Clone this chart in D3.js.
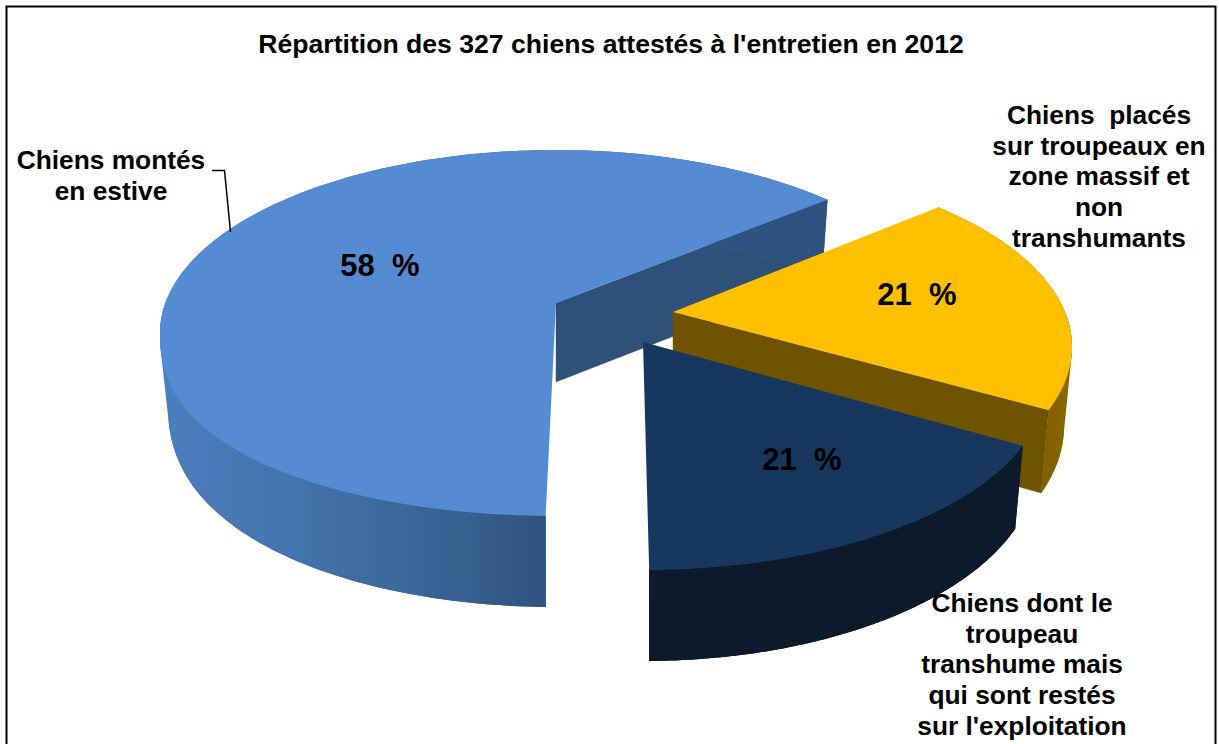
<!DOCTYPE html>
<html lang="fr">
<head>
<meta charset="utf-8">
<style>html,body{margin:0;padding:0;background:#fff}svg{display:block}text{font-family:"Liberation Sans",Arial,sans-serif;font-weight:bold;fill:#000;white-space:pre}</style>
<script src="https://cdn.jsdelivr.net/npm/d3@7/dist/d3.min.js"></script>
</head>
<body>
<svg id="c" width="1219" height="744"></svg>
<script>
const titleText = "Répartition des 327 chiens attestés à l'entretien en 2012";
const categories = ["Chiens montés en estive", "Chiens placés sur troupeaux", "Chiens dont le troupeau transhume"];
const drawnShares = [61.6, 18.9, 19.5];          // share of the circle as actually drawn
const printedPercents = [58, 21, 21];            // numbers printed on the slices
const labelLines = [
  ["Chiens montés", "en estive"],
  ["Chiens  placés", "sur troupeaux en", "zone massif et", "non", "transhumants"],
  ["Chiens dont le", "troupeau", "transhume mais", "qui sont restés", "sur l'exploitation"]
];

// layout and style
const W = 1219, H = 744;
const frames = [
  {cx:556, cy:333, rx:396, ry:183, belly:0.85, d0:70, dFront:21, dBack:12, ax:556, ay:303, turn:0,    top:"#548bd3", side:"url(#gBlue)",   inner:"#2f5079", px:380, py:276, lx:111,  ly:169},
  {cx:673, cy:347, rx:399, ry:187, belly:1,    d0:79, dFront:12, dBack:0,  ax:673, ay:312, turn:-1.6, top:"#ffc000", side:"url(#gYellow)", inner:"#6f5300", px:917, py:305, lx:1099, ly:124},
  {cx:645, cy:385, rx:400, ry:185, belly:1,    d0:79, dFront:12, dBack:0,  ax:643, ay:342, turn:-2.1, top:"#17375e", side:"#0c1a2b",       inner:"#0c1a2b", px:802, py:470, lx:1022, ly:612}
];
const apexDepth = 79, shrink = 0.98;

const svg = d3.select("#c");
const defs = svg.append("defs");
function grad(id, x1, x2, stops){
  const g = defs.append("linearGradient").attr("id", id).attr("gradientUnits","userSpaceOnUse")
    .attr("x1",x1).attr("x2",x2).attr("y1",0).attr("y2",0);
  stops.forEach(([o,c]) => g.append("stop").attr("offset",o).attr("stop-color",c));
}
grad("gBlue", 160, 546, [[0,"#4b7ebd"],[0.35,"#4374ad"],[0.7,"#3a6496"],[1,"#2f5380"]]);
grad("gYellow", 1030, 1072, [[0,"#7a5c00"],[1,"#8a6900"]]);

svg.append("rect").attr("x",6.5).attr("y",6.5).attr("width",1209).attr("height",H+20)
  .attr("fill","#fff").attr("stroke","#000").attr("stroke-width",2);

svg.append("text").attr("x",611).attr("y",53).attr("text-anchor","middle")
  .attr("font-size",26.6).text(titleText);

const pie = d3.pie().sort(null)
  .startAngle((181.5)*Math.PI/180)
  .endAngle((181.5+360)*Math.PI/180);
const arcs = pie(drawnShares);
const line = d3.line();

arcs.forEach((a,i) => {
  const f = frames[i];
  const turn = f.turn*Math.PI/180;
  const angle = d3.scaleLinear().domain([0,1]).range([a.startAngle-Math.PI/2+turn, a.endAngle-Math.PI/2+turn]);
  const ts = d3.range(0,1.0001,1/160);
  const topPt = t => {
    const s = Math.sin(t);
    const sy = s > 0 ? Math.pow(s, f.belly) : s;
    return [f.cx+f.rx*Math.cos(t), f.cy+f.ry*sy];
  };
  const rimDepth = s => f.d0 + (s > 0 ? f.dFront*s : -f.dBack*s);
  const down = (p,h) => [f.cx+(p[0]-f.cx)*shrink, p[1]+h];
  const arcTop = ts.map(t => topPt(angle(t)));
  const arcBot = ts.map(t => down(topPt(angle(t)), rimDepth(Math.sin(angle(t)))));
  const apex = [f.ax,f.ay], apexBot = down(apex,apexDepth);
  const g = svg.append("g").attr("class","slice").attr("data-name",categories[i]);

  // flat walls along the cuts, only those that face the viewer
  [[angle(0),-1,0],[angle(1),1,ts.length-1]].forEach(([th,dir,k]) => {
    if (dir*Math.cos(th) > 0.1) {
      g.append("path").attr("fill",f.inner).attr("stroke",f.inner).attr("stroke-width",0.4)
        .attr("d", line([apex, arcTop[k], arcBot[k], apexBot])+"Z");
    }
  });
  // rim: the strip between both arcs, plus the silhouette of its front part
  g.append("path").attr("fill",f.side)
    .attr("d", line(arcTop.concat(arcBot.slice().reverse()))+"Z");
  const front = ts.map(angle).map((t,k)=>Math.sin(t) > -0.2 ? [arcTop[k],arcBot[k]] : []).flat();
  g.append("path").attr("fill",f.side)
    .attr("d", line(d3.polygonHull(front))+"Z");
  // top face
  g.append("path").attr("fill",f.top)
    .attr("d", line([apex].concat(arcTop))+"Z");
});

// leader line
svg.append("path").attr("fill","none").attr("stroke","#000").attr("stroke-width",1.5)
  .attr("d", line([[212,170.5],[224.5,170.5],[230.5,232]]));

// printed percentages
svg.selectAll("text.pct").data(printedPercents).join("text").attr("class","pct")
  .attr("text-anchor","middle").attr("font-size",31)
  .attr("x",(d,i)=>frames[i].px).attr("y",(d,i)=>frames[i].py)
  .text(d=>d+"  %");

// category labels
labelLines.forEach((ls,i) => {
  const f = frames[i];
  const t = svg.append("text").attr("text-anchor","middle").attr("font-size",26.3);
  ls.forEach((s,j) => t.append("tspan").attr("x",f.lx).attr("y",f.ly+j*30.7).text(s));
});
</script>
</body>
</html>
